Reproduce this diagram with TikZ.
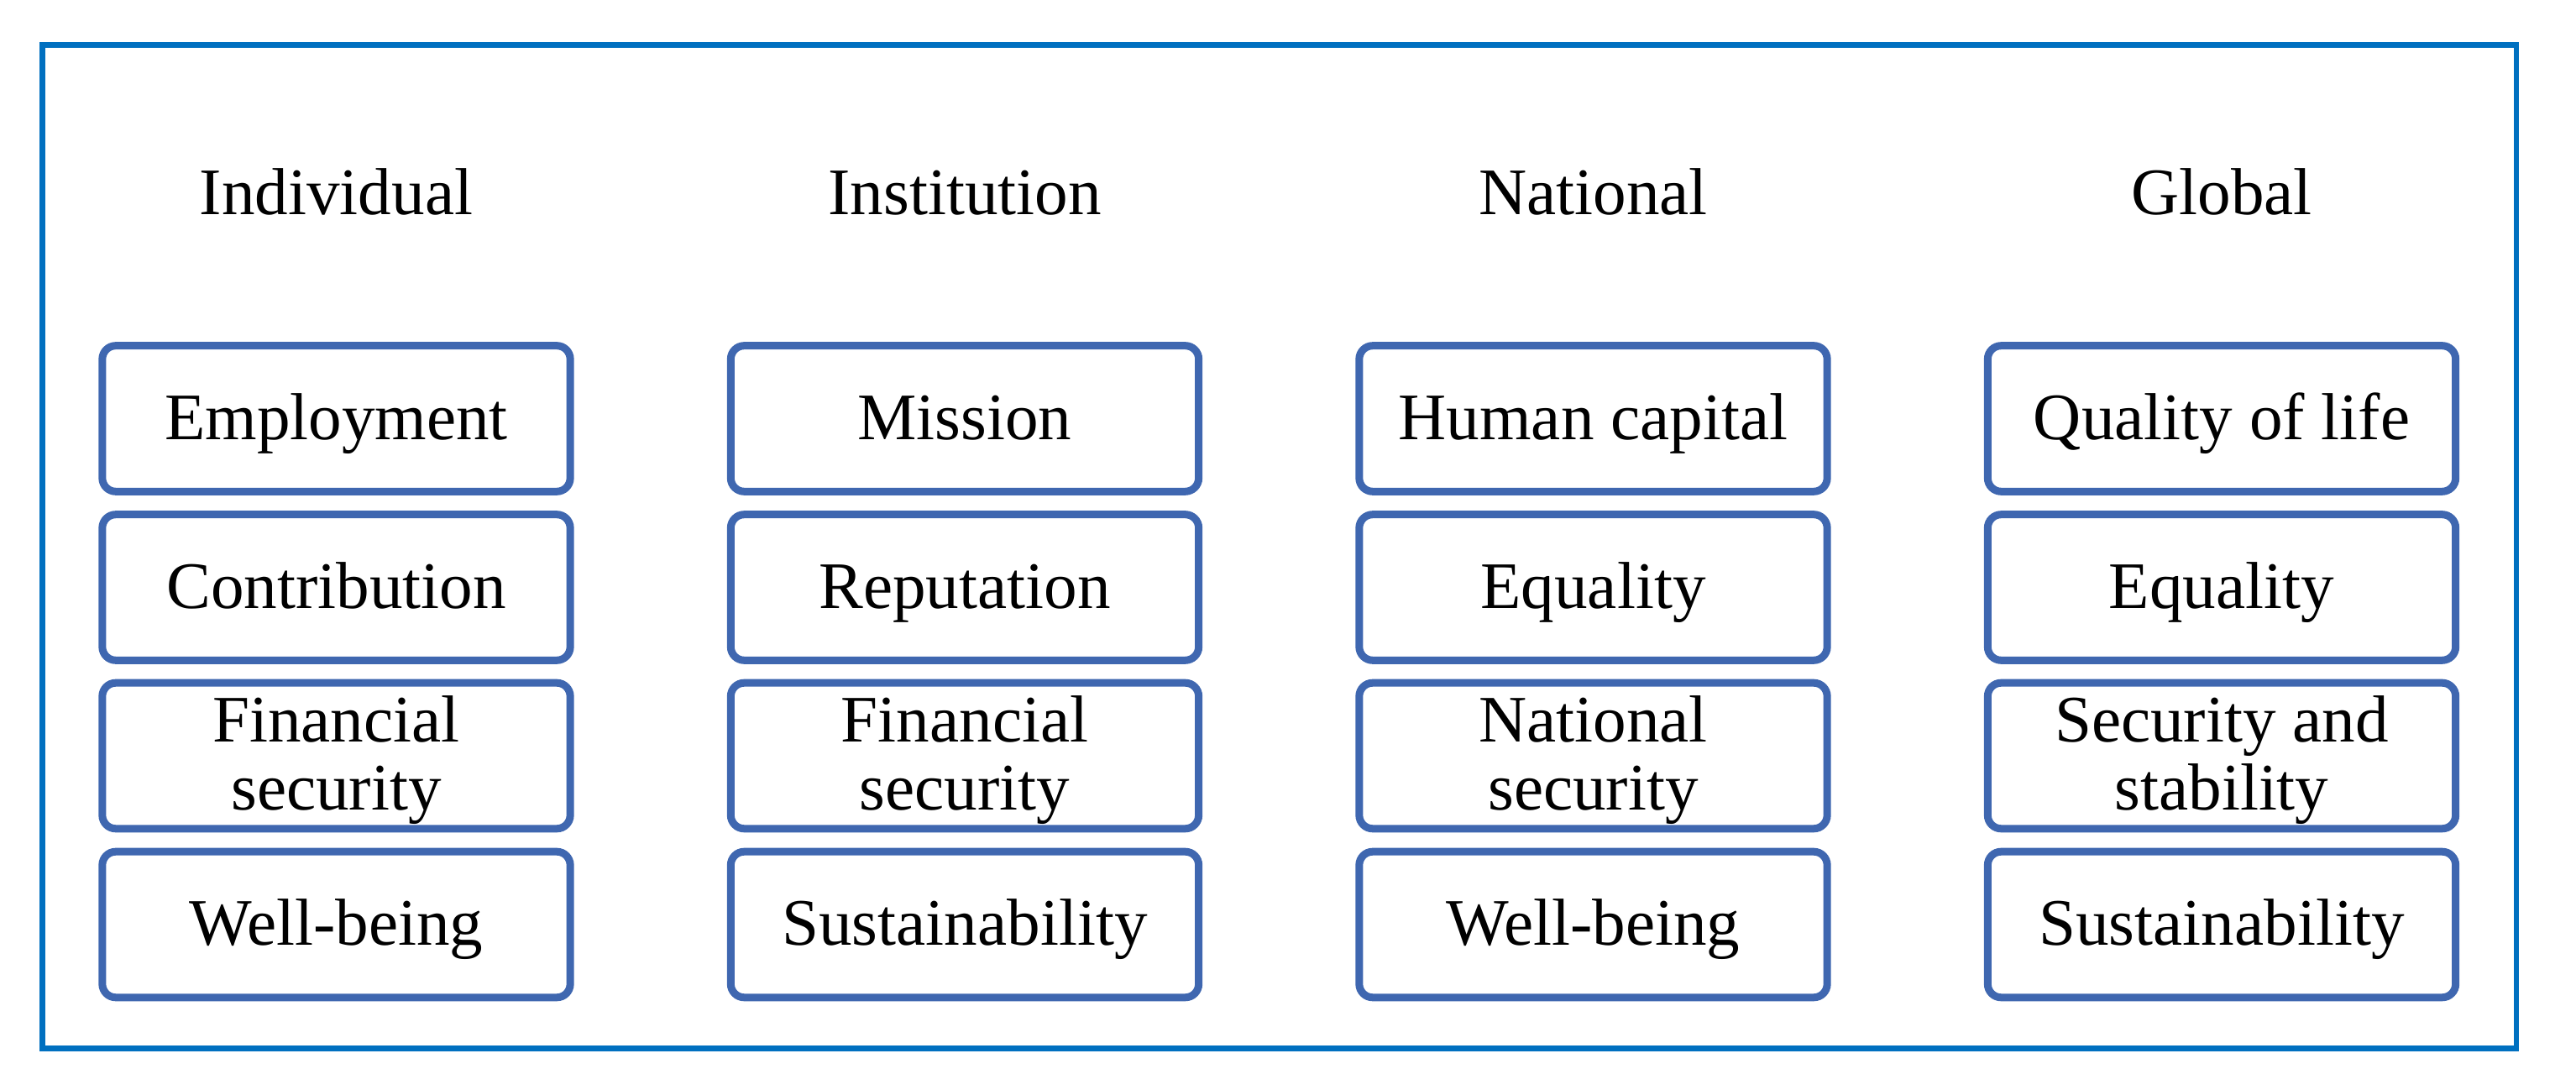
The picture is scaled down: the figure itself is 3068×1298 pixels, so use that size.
\documentclass[tikz,border=0pt]{standalone}
\usepackage{fontspec}
\setmainfont{Liberation Serif}
\definecolor{framecol}{RGB}{0,112,192}
\definecolor{boxcol}{RGB}{63,103,176}
\begin{document}
\begin{tikzpicture}[x=0.01cm,y=-0.01cm,
  cell/.style={draw=boxcol, line width=0.09cm, rounded corners=0.16cm,
    minimum width=5.57cm, minimum height=1.735cm, inner sep=0pt,
    align=center, text height=0.6cm, text depth=0.11cm,
    font=\fontsize{22.5}{22.8}\selectfont},
  twoline/.style={cell, text height=1.39cm, text depth=0.11cm},
  head/.style={anchor=base, inner sep=0pt, font=\fontsize{22.5}{22.8}\selectfont}]
\useasboundingbox (0,0) rectangle (3068,1298);
\node[draw=framecol, line width=0.065cm, minimum width=29.445cm, minimum height=11.94cm, inner sep=0pt] (frame) at (1523.75,651) {};
% headers
\node[head] (h1) at (400.5,256) {Individual};
\node[head] (h2) at (1149,256) {Institution};
\node[head] (h3) at (1897.5,256) {National};
\node[head] (h4) at (2646,256) {Global};
% column 1
\node[cell] (a1) at (400.5,498.5) {Employment};
\node[cell] (a2) at (400.5,699.5) {Contribution};
\node[twoline] (a3) at (400.5,900) {Financial\\security};
\node[cell] (a4) at (400.5,1101) {Well-being};
% column 2
\node[cell] (b1) at (1149,498.5) {Mission};
\node[cell] (b2) at (1149,699.5) {Reputation};
\node[twoline] (b3) at (1149,900) {Financial\\security};
\node[cell] (b4) at (1149,1101) {Sustainability};
% column 3
\node[cell] (c1) at (1897.5,498.5) {Human capital};
\node[cell] (c2) at (1897.5,699.5) {Equality};
\node[twoline] (c3) at (1897.5,900) {National\\security};
\node[cell] (c4) at (1897.5,1101) {Well-being};
% column 4
\node[cell] (d1) at (2646,498.5) {Quality of life};
\node[cell] (d2) at (2646,699.5) {Equality};
\node[twoline] (d3) at (2646,900) {Security and\\stability};
\node[cell] (d4) at (2646,1101) {Sustainability};
\end{tikzpicture}
\end{document}
